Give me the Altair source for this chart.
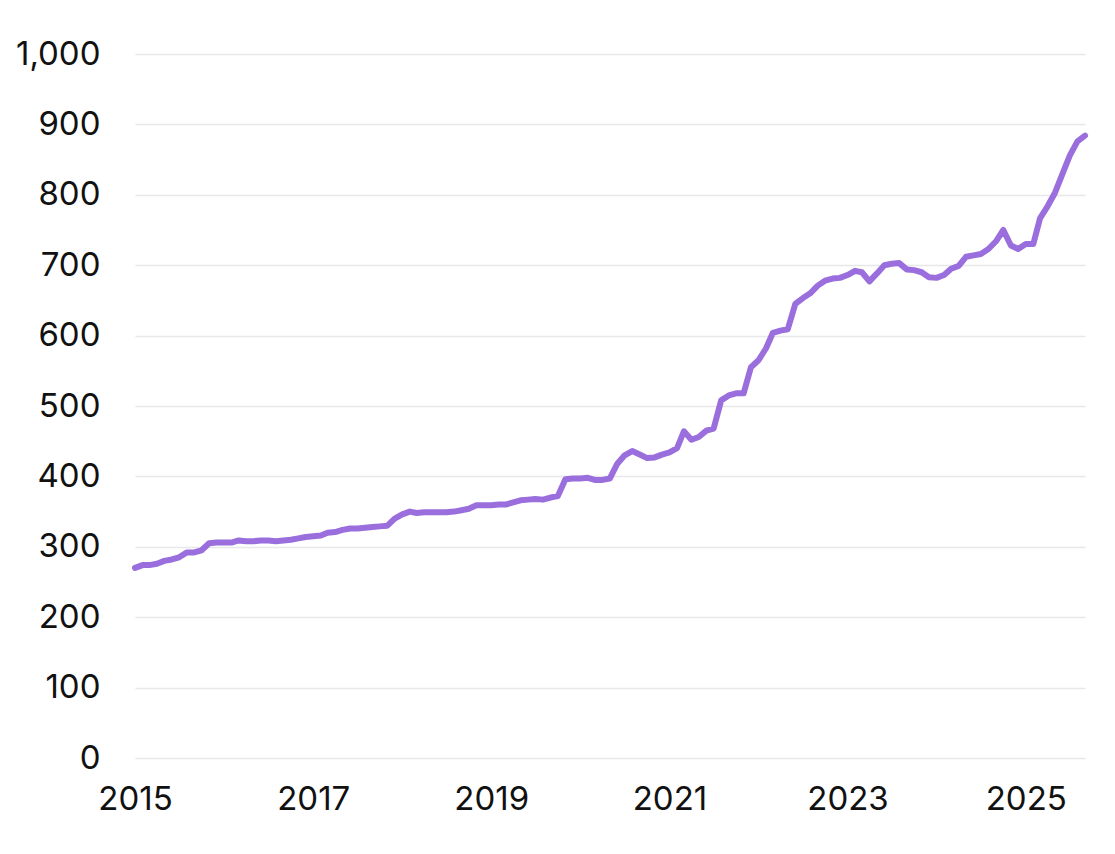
import altair as alt
import pandas as pd

start_month = "2015-01-01"
values = [
    270, 274, 274, 276, 280, 282, 285, 292, 292, 295, 305, 306,
    306, 306, 309, 308, 308, 309, 309, 308, 309, 310, 312, 314,
    315, 316, 320, 321, 324, 326, 326, 327, 328, 329, 330, 340,
    346, 350, 348, 349, 349, 349, 349, 350, 352, 354, 359, 359,
    359, 360, 360, 363, 366, 367, 368, 367, 370, 372, 396, 397,
    397, 398, 395, 395, 397, 418, 430, 436, 431, 426, 427, 431,
    434, 440, 464, 452, 456, 465, 468, 508, 515, 518, 518, 555,
    565, 582, 604, 607, 609, 645, 653, 660, 671, 678, 681, 682,
    686, 692, 690, 677, 688, 700, 702, 703, 694, 693, 690, 683,
    682, 686, 695, 699, 712, 714, 716, 723, 734, 750, 728, 723,
    730, 730, 767, 784, 803, 830, 856, 876, 884,
]
x_tick_years = [2015, 2017, 2019, 2021, 2023, 2025]
y_ticks = [0, 100, 200, 300, 400, 500, 600, 700, 800, 900, 1000]

dates = pd.date_range(start_month, periods=len(values), freq="MS").strftime("%Y-%m-%dT00:00:00")
df = pd.DataFrame({"date": list(dates), "value": values})

chart = (
    alt.Chart(df)
    .mark_line(color="#9A6FDD", strokeWidth=6, strokeJoin="round", strokeCap="round")
    .encode(
        x=alt.X(
            "date:T",
            title=None,
            scale=alt.Scale(nice=False),
            axis=alt.Axis(
                values=[alt.DateTime(year=y, month=1, date=1) for y in x_tick_years],
                format="%Y",
                grid=False,
                domain=False,
                ticks=False,
                labelFlush=False,
                labelOverlap=False,
                labelFontSize=33,
                labelPadding=25,
                labelColor="#111111",
                labelFont="Inter",
            ),
        ),
        y=alt.Y(
            "value:Q",
            title=None,
            scale=alt.Scale(domain=[0, 1000], nice=False),
            axis=alt.Axis(
                values=y_ticks,
                format=",.0f",
                grid=True,
                gridColor="#E8E8E8",
                gridWidth=1.5,
                domain=False,
                ticks=False,
                labelFlush=False,
                labelFontSize=33,
                labelPadding=35,
                labelColor="#111111",
                labelFont="Inter",
            ),
        ),
    )
    .properties(
        width=950,
        height=704,
        background="white",
        padding={"top": 30, "left": 7, "right": 5, "bottom": 5},
    )
    .configure_view(stroke=None, strokeWidth=0)
)

chart.save("out.html", embed_options={"renderer": "svg", "actions": False})
